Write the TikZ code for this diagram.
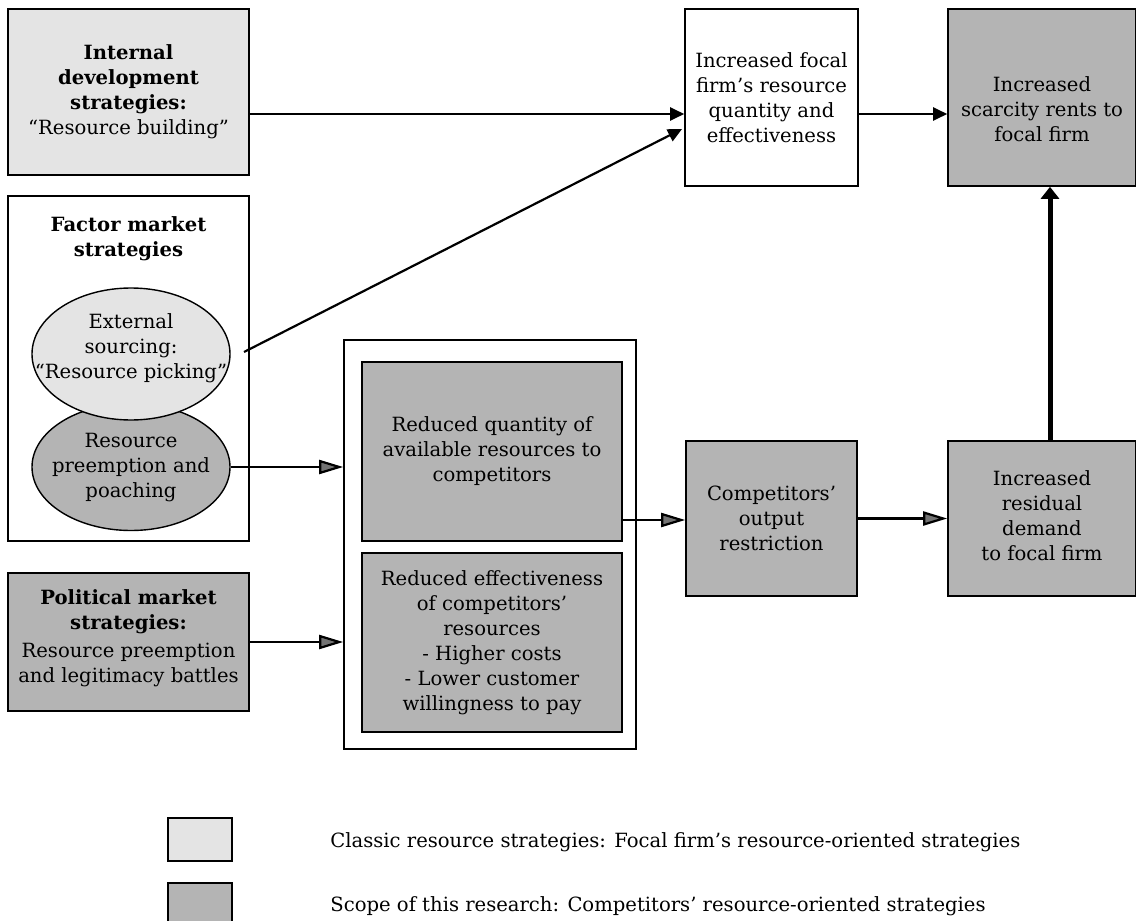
\documentclass[tikz,border=0pt]{standalone}
\usepackage{fontspec}
\setmainfont{DejaVu Serif}
\usetikzlibrary{arrows.meta,shapes.geometric}
\definecolor{lightg}{HTML}{E4E4E4}
\definecolor{darkg}{HTML}{B4B4B4}
\begin{document}
\begin{tikzpicture}[x=0.5pt,y=-0.5pt,
  every node/.style={font=\fontsize{9.8}{12.5}\selectfont, align=center, inner sep=0pt},
  box/.style={draw, line width=0.8pt, rectangle},
  ell/.style={draw, line width=0.7pt, ellipse, inner sep=0pt},
  lightbox/.style={box, fill=lightg},
  darkbox/.style={box, fill=darkg},
  whitebox/.style={box, fill=white},
  blackarrow/.style={line width=1.1pt, -{Triangle[length=7pt,width=6.5pt]}},
  grayarrow/.style={line width=1.1pt, -{Triangle[length=12pt,width=7pt,fill=black!55]}},
  thickarrow/.style={line width=2.5pt, -{Triangle[length=6pt,width=9pt]}}
]
\useasboundingbox (0,0) rectangle (1136,921);
\clip (0,0) rectangle (1136,921);

% left column
\node[lightbox, minimum width=120.5pt, minimum height=83pt] (internal) at (128.5,92)
  {\textbf{Internal}\\ \textbf{development}\\ \textbf{strategies:}\\ “Resource building”};
\node[whitebox, minimum width=120.5pt, minimum height=172.5pt] (factor) at (128.5,368.5) {};
\node (factortitle) at (128.5,239) {\textbf{Factor market}\\ \textbf{strategies}};
\node[ell, fill=darkg, minimum width=99pt, minimum height=63.5pt] (ell2) at (131,467) {};
\node (ell2text) at (131,468) {Resource\\ preemption and\\ poaching};
\node[ell, fill=lightg, minimum width=99pt, minimum height=66pt] (ell1) at (131,354) {};
\node (ell1text) at (131,348) {External\\ sourcing:\\ “Resource picking”};
\node[darkbox, minimum width=120.5pt, minimum height=69pt] (political) at (128.5,642) {};
\node (politicaltext) at (128.5,638)
  {\textbf{Political market}\\ \textbf{strategies:}\\[1.5pt] Resource preemption\\ and legitimacy battles};

% middle
\node[whitebox, minimum width=146pt, minimum height=204.5pt] (outer) at (490,544.5) {};
\node[darkbox, minimum width=130pt, minimum height=89.5pt] (inner1) at (492,451.5)
  {Reduced quantity of\\ available resources to\\ competitors};
\node[darkbox, minimum width=130pt, minimum height=89.5pt] (inner2) at (492,642.5)
  {Reduced effectiveness\\ of competitors’\\ resources\\ - Higher costs\\ - Lower customer\\ willingness to pay};

% right
\node[whitebox, minimum width=86.5pt, minimum height=88.5pt] (focal) at (771.5,97.5)
  {Increased focal\\ firm’s resource\\ quantity and\\ effectiveness};
\node[darkbox, minimum width=94pt, minimum height=88.5pt] (scarcity) at (1042,97.5) {};
\node (scarcitytext) at (1042,109) {Increased\\ scarcity rents to\\ focal firm};
\node[darkbox, minimum width=85.5pt, minimum height=77.5pt] (comp) at (771.5,518.5)
  {Competitors’\\ output\\ restriction};
\node[darkbox, minimum width=94pt, minimum height=77.5pt] (resid) at (1042,518.5) {};
\node (residtext) at (1042,516) {Increased\\ residual\\ demand\\ to focal firm};

% connectors
\coordinate (row1) at (0,114);
\draw[blackarrow] (internal.east |- row1) -- (focal.west |- row1);
\coordinate (ellout) at (244,352);
\coordinate (focalin) at (682,129);
\draw[blackarrow] (ellout) -- (focalin);
\draw[blackarrow] (focal.east |- row1) -- (scarcity.west |- row1);
\draw[grayarrow] (ell2.east) -- (ell2.east -| outer.west);
\draw[grayarrow] (political.east) -- (political.east -| outer.west);
\coordinate (i1out) at (622,520);
\draw[grayarrow] (i1out) -- (i1out -| comp.west);
\draw[grayarrow] (comp.east) -- (comp.east -| resid.west);
\coordinate (rtop) at (1050,441);
\draw[thickarrow] (rtop) -- (rtop |- scarcity.south);

% legend
\node[lightbox, minimum width=32pt, minimum height=21.5pt] (leg1) at (200,839.5) {};
\node[darkbox, minimum width=32pt, minimum height=21.5pt] (leg2) at (200,904.5) {};
\node[anchor=west] (leg1text) at (330,842) {Classic resource strategies: Focal firm’s resource-oriented strategies};
\node[anchor=west] (leg2text) at (330,906) {Scope of this research: Competitors’ resource-oriented strategies};
\end{tikzpicture}
\end{document}
